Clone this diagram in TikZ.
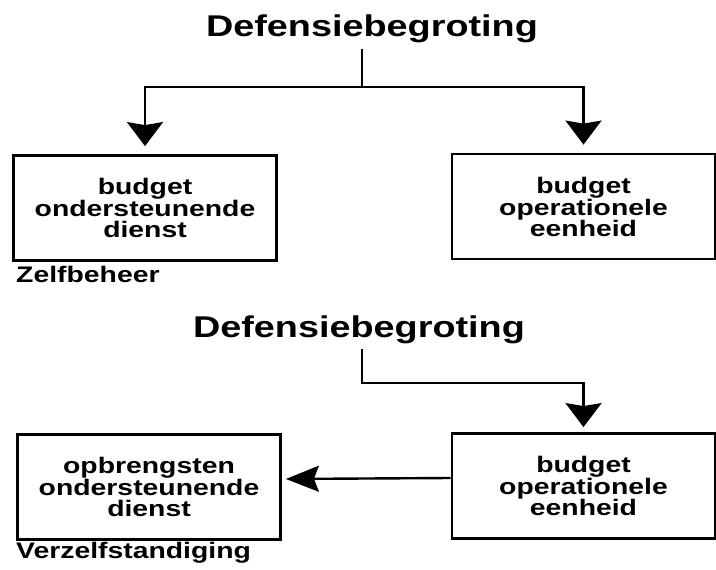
\documentclass[tikz,border=0pt]{standalone}
\usepackage{fontspec}
\newfontfamily\diagfont[FakeStretch=1.26]{Liberation Sans Bold}
\usetikzlibrary{arrows.meta}

\begin{document}
\begin{tikzpicture}[x=1pt,y=-1pt,
        title/.style={font=\diagfont\fontsize{30}{30}\selectfont,inner sep=0pt,anchor=base},
        budgetbox/.style={draw,line width=2.8pt,minimum width=263pt,minimum height=105pt,
            align=center,inner sep=0pt,font=\diagfont\fontsize{22.5}{21}\selectfont},
        caption/.style={font=\diagfont\fontsize{22.5}{21}\selectfont,inner sep=0pt,anchor=base west},
        link/.style={line width=2.4pt},
        todown/.style={-{Stealth[length=24pt,width=36pt,inset=3pt]}},
        toleft/.style={-{Stealth[length=33pt,width=26pt,inset=5pt]}}]
    \useasboundingbox (0,0) rectangle (716,570);

    % Zelfbeheer
    \node[title] (begr1) at (372,37) {Defensiebegroting};
    \node[budgetbox] (steun1) at (145,208) {budget\\ondersteunende\\dienst};
    \node[budgetbox] (oper1) at (583.5,206.5) {budget\\operationele\\eenheid};
    \node[caption] (zelf) at (16,282) {Zelfbeheer};
    \coordinate (split1) at (362,87);

    \draw[link,shorten <=5pt] (begr1.south -| split1) -- (split1);
    \draw[link,todown,shorten >=8pt] (split1) -| (steun1.north);
    \draw[link,todown,shorten >=8pt] (split1) -| (oper1.north);

    % Verzelfstandiging
    \node[title] (begr2) at (359,337) {Defensiebegroting};
    \node[budgetbox] (opbr) at (149,487) {opbrengsten\\ondersteunende\\dienst};
    \node[budgetbox] (oper2) at (583.5,486) {budget\\operationele\\eenheid};
    \node[caption] (verz) at (16,558) {Verzelfstandiging};
    \coordinate (split2) at (362,383);

    \draw[link,todown,shorten <=5pt,shorten >=5pt] (begr2.south -| split2) -- (split2) -| (oper2.north);
    \draw[link,toleft,shorten >=4pt] ([yshift=8pt]oper2.west) -- ([yshift=8pt]opbr.east);
\end{tikzpicture}
\end{document}
